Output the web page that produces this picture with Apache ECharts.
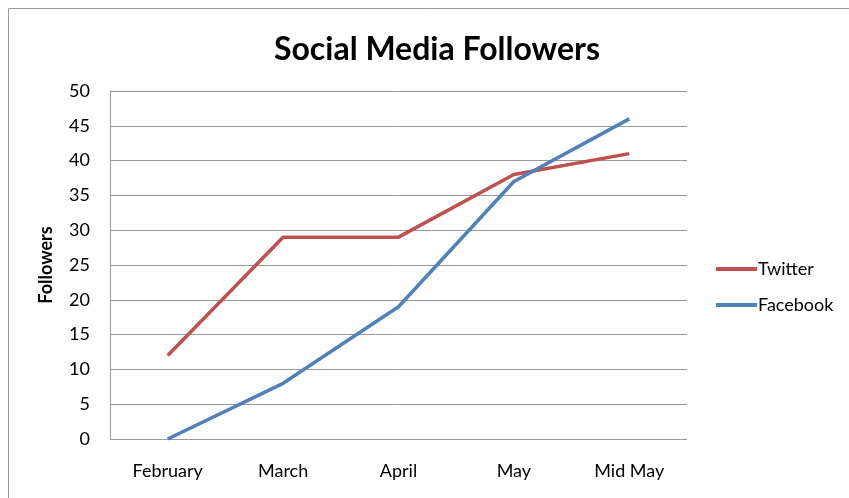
<!DOCTYPE html>
<html><head><meta charset="utf-8">
<script src="https://cdn.jsdelivr.net/npm/echarts@6/dist/echarts.min.js"></script>
<style>html,body{margin:0;padding:0;background:#fff}#c{width:849px;height:498px}</style>
</head><body><div id="c"></div>
<script>
const categories = ['February', 'March', 'April', 'May', 'Mid May'];
const twitter = [12, 29, 29, 38, 41];
const facebook = [0, 8, 19, 37, 46];
const yTicks = [0, 50, 5];

const chart = echarts.init(document.getElementById('c'));
const font = 'Lato, "Open Sans", "Liberation Sans", sans-serif';
chart.setOption({
  animation: false,
  backgroundColor: '#fff',
  graphic: [{
    type: 'rect', shape: {x: 8.5, y: 8.5, width: 860, height: 500},
    style: {fill: 'none', stroke: '#999', lineWidth: 1}, silent: true
  }],
  title: {
    text: 'Social Media Followers', left: 432, top: 29, textAlign: 'center',
    textStyle: {fontFamily: font, fontWeight: 'bold', fontSize: 32, color: '#000'}
  },
  legend: {
    orient: 'vertical', left: 716, top: 260, itemGap: 18, itemWidth: 41, itemHeight: 4,
    padding: 0, icon: 'rect',
    textStyle: {fontFamily: font, fontSize: 18, color: '#000', padding: [0, 0, 0, -4]},
    data: ['Twitter', 'Facebook']
  },
  grid: {left: 110, top: 91, width: 577, height: 348, containLabel: false},
  xAxis: {
    type: 'category', data: categories, boundaryGap: true,
    axisLine: {show: false}, axisTick: {show: false},
    axisLabel: {fontFamily: font, fontSize: 18, color: '#000', margin: 23}
  },
  yAxis: {
    type: 'value', min: yTicks[0], max: yTicks[1], interval: yTicks[2],
    name: 'Followers', nameLocation: 'middle', nameGap: 55, nameRotate: 90,
    nameTextStyle: {fontFamily: font, fontWeight: 'bold', fontSize: 18, color: '#000'},
    axisLine: {show: true, lineStyle: {color: '#999', width: 1}},
    axisTick: {show: false},
    splitLine: {lineStyle: {color: '#999', width: 1}},
    axisLabel: {fontFamily: font, fontSize: 18, color: '#000', margin: 20}
  },
  series: [
    {name: 'Twitter', type: 'line', data: twitter, symbol: 'none',
     lineStyle: {color: '#C0504D', width: 3.5}, itemStyle: {color: '#C0504D'}},
    {name: 'Facebook', type: 'line', data: facebook, symbol: 'none',
     lineStyle: {color: '#4F81BD', width: 3.5}, itemStyle: {color: '#4F81BD'}}
  ]
});
</script></body></html>
